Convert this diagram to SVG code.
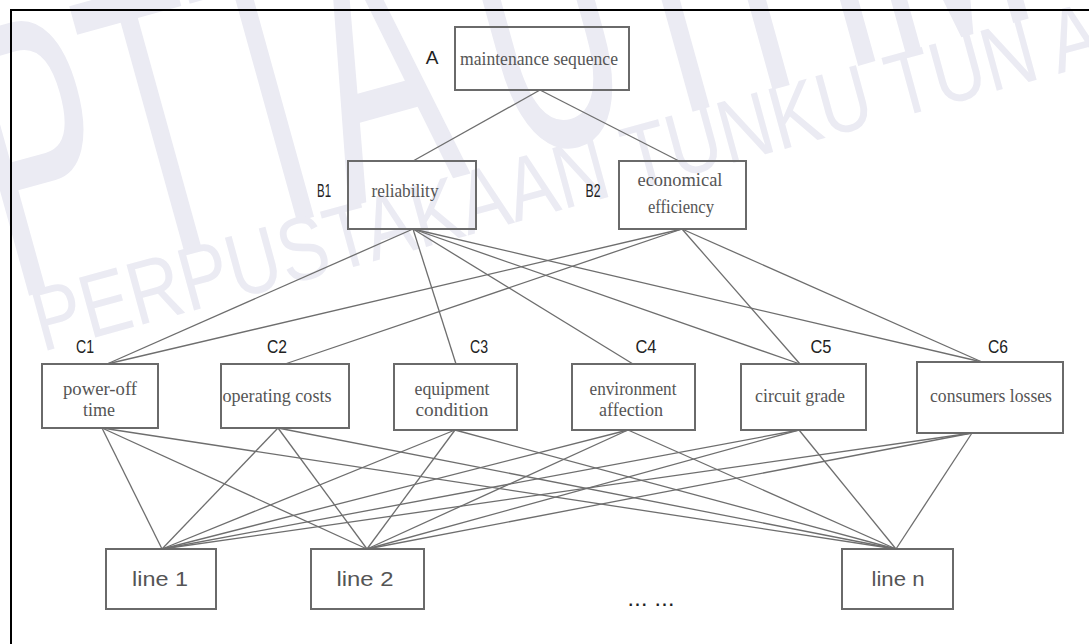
<svg xmlns="http://www.w3.org/2000/svg" width="1089" height="644" viewBox="0 0 1089 644">
<style>
.box{fill:none;stroke:#6a6a6a;stroke-width:2}
.t{font-family:"Liberation Serif",serif;font-size:18px;fill:#555;text-anchor:middle}
.lab{font-family:"Liberation Sans",sans-serif;font-size:19px;fill:#222;text-anchor:middle}
.ln{font-family:"Liberation Sans",sans-serif;font-size:20px;fill:#555;text-anchor:middle}
.wm{font-family:"Liberation Sans",sans-serif;fill:#ebebf3}
#connectors line{stroke:#6e6e6e;stroke-width:1.3}
</style>
<rect width="1089" height="644" fill="#fff"/>
<g id="watermark">
<text class="wm" font-size="390" transform="translate(14,300) rotate(-15.5) scale(0.49,1)">PTTA UTHM</text>
<text class="wm" font-size="90" transform="translate(42,352) rotate(-15.3) scale(0.82,1)">PERPUSTAKAAN TUNKU TUN AMINAH</text>
</g>
<g id="frame">
<line x1="11" y1="10" x2="1089" y2="10" stroke="#000" stroke-width="2"/>
<line x1="11" y1="9" x2="11" y2="644" stroke="#000" stroke-width="2"/>
</g>
<g id="connectors">
<line x1="540" y1="90" x2="413" y2="161"/>
<line x1="540" y1="90" x2="679" y2="161"/>
<line x1="413" y1="229" x2="107" y2="364"/>
<line x1="413" y1="229" x2="456" y2="364"/>
<line x1="413" y1="229" x2="633" y2="364"/>
<line x1="413" y1="229" x2="800" y2="364"/>
<line x1="413" y1="229" x2="982" y2="362"/>
<line x1="682" y1="229" x2="107" y2="364"/>
<line x1="682" y1="229" x2="285" y2="364"/>
<line x1="682" y1="229" x2="800" y2="364"/>
<line x1="682" y1="229" x2="982" y2="362"/>
<line x1="102" y1="428" x2="162" y2="549"/>
<line x1="102" y1="428" x2="367" y2="549"/>
<line x1="102" y1="428" x2="896" y2="549"/>
<line x1="278" y1="428" x2="162" y2="549"/>
<line x1="278" y1="428" x2="367" y2="549"/>
<line x1="278" y1="428" x2="896" y2="549"/>
<line x1="455" y1="430" x2="162" y2="549"/>
<line x1="455" y1="430" x2="367" y2="549"/>
<line x1="455" y1="430" x2="896" y2="549"/>
<line x1="628" y1="430" x2="162" y2="549"/>
<line x1="628" y1="430" x2="367" y2="549"/>
<line x1="628" y1="430" x2="896" y2="549"/>
<line x1="799" y1="430" x2="162" y2="549"/>
<line x1="799" y1="430" x2="367" y2="549"/>
<line x1="799" y1="430" x2="896" y2="549"/>
<line x1="972" y1="433" x2="162" y2="549"/>
<line x1="972" y1="433" x2="367" y2="549"/>
<line x1="972" y1="433" x2="896" y2="549"/>
</g>
<g id="A">
<rect class="box" x="455" y="27" width="174" height="63"/>
<text class="t" x="539" y="65" textLength="158" lengthAdjust="spacingAndGlyphs">maintenance sequence</text>
<text class="lab" x="432" y="64" font-size="17">A</text>
</g>
<g id="B1">
<rect class="box" x="348" y="161" width="128" height="68"/>
<text class="t" x="405" y="197" textLength="67" lengthAdjust="spacingAndGlyphs">reliability</text>
<text class="lab" x="324" y="197" textLength="14" lengthAdjust="spacingAndGlyphs">B1</text>
</g>
<g id="B2">
<rect class="box" x="619" y="161" width="127" height="68"/>
<text class="t" x="680" y="186" textLength="85" lengthAdjust="spacingAndGlyphs">economical</text>
<text class="t" x="681" y="213" textLength="66" lengthAdjust="spacingAndGlyphs">efficiency</text>
<text class="lab" x="593" y="197" textLength="15" lengthAdjust="spacingAndGlyphs">B2</text>
</g>
<g id="C1">
<rect class="box" x="42" y="364" width="116" height="64"/>
<text class="t" x="100" y="395" textLength="74" lengthAdjust="spacingAndGlyphs">power-off</text>
<text class="t" x="99" y="416" textLength="32" lengthAdjust="spacingAndGlyphs">time</text>
<text class="lab" x="85" y="353" textLength="18" lengthAdjust="spacingAndGlyphs">C1</text>
</g>
<g id="C2">
<rect class="box" x="221" y="364" width="128" height="64"/>
<text class="t" x="277" y="402" textLength="109" lengthAdjust="spacingAndGlyphs">operating costs</text>
<text class="lab" x="277" y="353" textLength="20" lengthAdjust="spacingAndGlyphs">C2</text>
</g>
<g id="C3">
<rect class="box" x="394" y="364" width="123" height="66"/>
<text class="t" x="452" y="395" textLength="75" lengthAdjust="spacingAndGlyphs">equipment</text>
<text class="t" x="452" y="416" textLength="73" lengthAdjust="spacingAndGlyphs">condition</text>
<text class="lab" x="479" y="353" textLength="18" lengthAdjust="spacingAndGlyphs">C3</text>
</g>
<g id="C4">
<rect class="box" x="572" y="364" width="123" height="66"/>
<text class="t" x="633" y="395" textLength="87" lengthAdjust="spacingAndGlyphs">environment</text>
<text class="t" x="631" y="416" textLength="64" lengthAdjust="spacingAndGlyphs">affection</text>
<text class="lab" x="646" y="353" textLength="21" lengthAdjust="spacingAndGlyphs">C4</text>
</g>
<g id="C5">
<rect class="box" x="741" y="364" width="125" height="66"/>
<text class="t" x="800" y="402" textLength="90" lengthAdjust="spacingAndGlyphs">circuit grade</text>
<text class="lab" x="821" y="353" textLength="21" lengthAdjust="spacingAndGlyphs">C5</text>
</g>
<g id="C6">
<rect class="box" x="917" y="362" width="146" height="71"/>
<text class="t" x="991" y="402" textLength="122" lengthAdjust="spacingAndGlyphs">consumers losses</text>
<text class="lab" x="998" y="353" textLength="20" lengthAdjust="spacingAndGlyphs">C6</text>
</g>
<g id="line1">
<rect class="box" x="106" y="549" width="110" height="60"/>
<text class="ln" x="160" y="586" textLength="56" lengthAdjust="spacingAndGlyphs">line 1</text>
</g>
<g id="line2">
<rect class="box" x="311" y="549" width="113" height="60"/>
<text class="ln" x="365" y="586" textLength="57" lengthAdjust="spacingAndGlyphs">line 2</text>
</g>
<g id="linen">
<rect class="box" x="842" y="549" width="111" height="60"/>
<text class="ln" x="898" y="586" textLength="53" lengthAdjust="spacingAndGlyphs">line n</text>
</g>
<text x="651" y="606" font-family="Liberation Sans, sans-serif" font-size="16" font-weight="bold" fill="#222" text-anchor="middle" textLength="45" lengthAdjust="spacing">... ...</text>
</svg>
